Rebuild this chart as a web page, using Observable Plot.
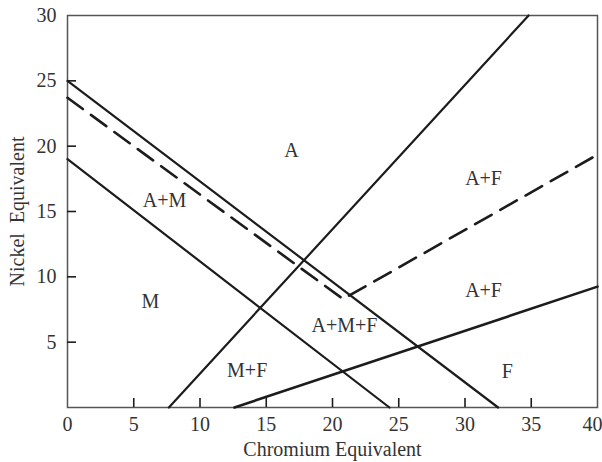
<!DOCTYPE html>
<html>
<head>
<meta charset="utf-8">
<script src="https://cdn.jsdelivr.net/npm/d3@7"></script>
<script src="https://cdn.jsdelivr.net/npm/@observablehq/plot@0.6"></script>
<style>
  html, body { margin: 0; padding: 0; background: #fff; }
</style>
</head>
<body>
<div id="chart"></div>
<script>
// Tick values
const xTicks = [0, 5, 10, 15, 20, 25, 30, 35, 40];
const yTicks = [5, 10, 15, 20, 25, 30];

// Boundary lines (Chromium eq., Nickel eq.)
const upperSolid = [{x: 0, y: 25.0}, {x: 32.5, y: 0}];
const lowerSolid = [{x: 0, y: 19.0}, {x: 24.3, y: 0}];
const risingSteep = [{x: 7.65, y: 0}, {x: 34.8, y: 30}];
const risingShallow = [{x: 12.6, y: 0}, {x: 40, y: 9.25}];
const dashedLine = [{x: 0, y: 23.7}, {x: 20.8, y: 8.3}, {x: 40, y: 19.35}];

// Region labels
const regionLabels = [
  {x: 16.9, y: 19.66, text: "A"},
  {x: 7.32, y: 15.84, text: "A+M"},
  {x: 6.26, y: 8.11, text: "M"},
  {x: 31.4, y: 17.52, text: "A+F"},
  {x: 31.4, y: 8.95, text: "A+F"},
  {x: 20.9, y: 6.27, text: "A+M+F"},
  {x: 13.56, y: 2.83, text: "M+F"},
  {x: 33.2, y: 2.75, text: "F"}
];

const ink = "#1c1c1c";
const font = "'Liberation Serif', 'DejaVu Serif', serif";

const chart = Plot.plot({
  width: 602,
  height: 462,
  marginLeft: 67,
  marginRight: 5,
  marginTop: 15,
  marginBottom: 55,
  style: {fontFamily: font, fontSize: "20px", color: "#333", background: "#fff"},
  x: {domain: [0, 40]},
  y: {domain: [0, 30]},
  marks: [
    Plot.frame({stroke: "#555", strokeWidth: 1.5}),
    // inward tick marks: rules inset to 8px from the bottom / left frame edges
    Plot.ruleX(xTicks.slice(1, -1), {x: d => d, y1: 30, y2: 0, insetTop: 383, stroke: ink, strokeWidth: 1.6}),
    Plot.ruleY(yTicks.slice(0, -1), {y: d => d, x1: 0, x2: 40, insetRight: 521, stroke: ink, strokeWidth: 1.6}),
    Plot.axisX({ticks: xTicks.slice(0, -1), tickSize: 0, tickPadding: 9, fontSize: 20, label: "Chromium Equivalent", labelAnchor: "center", labelArrow: "none", labelOffset: 48}),
    Plot.axisX({ticks: xTicks.slice(-1), tickSize: 0, tickPadding: 9, fontSize: 20, dx: -5, label: null}),
    Plot.axisY({ticks: yTicks, tickSize: 0, tickPadding: 11, fontSize: 20, label: "Nickel  Equivalent", labelAnchor: "center", labelArrow: "none", labelOffset: 58}),
    Plot.line(upperSolid, {x: "x", y: "y", stroke: ink, strokeWidth: 2.2}),
    Plot.line(lowerSolid, {x: "x", y: "y", stroke: ink, strokeWidth: 2.2}),
    Plot.line(risingSteep, {x: "x", y: "y", stroke: ink, strokeWidth: 2.2}),
    Plot.line(risingShallow, {x: "x", y: "y", stroke: ink, strokeWidth: 2.6}),
    Plot.line(dashedLine, {x: "x", y: "y", stroke: ink, strokeWidth: 2.6, strokeDasharray: "19,10", strokeLinejoin: "miter"}),
    Plot.text(regionLabels, {x: "x", y: "y", text: "text", fontSize: 20, fill: "#333", textAnchor: "middle"})
  ]
});

document.getElementById("chart").appendChild(chart);
</script>
</body>
</html>
